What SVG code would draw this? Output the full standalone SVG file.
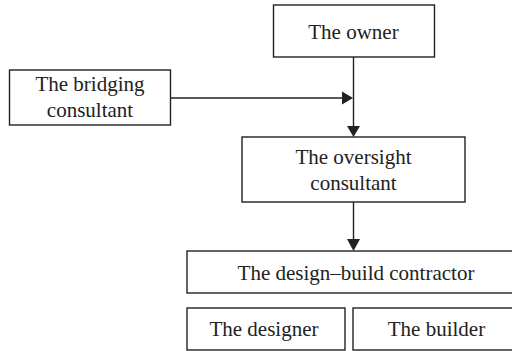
<svg xmlns="http://www.w3.org/2000/svg" width="512" height="351" viewBox="0 0 512 351">
  <style>
    .box { fill: #ffffff; stroke: #222222; stroke-width: 1.4; }
    .label { font-family: "Liberation Serif", "Times New Roman", serif; font-size: 21px; fill: #222222; text-anchor: middle; }
    .link { stroke: #222222; stroke-width: 1.4; fill: none; }
    .head { fill: #222222; }
  </style>
  <rect width="512" height="351" fill="#ffffff"/>

  <g id="connectors">
    <line class="link" x1="353.5" y1="57" x2="353.5" y2="127"/>
    <polygon class="head" points="347,126 360,126 353.5,137"/>
    <line class="link" x1="171" y1="98" x2="343" y2="98"/>
    <polygon class="head" points="342,91.5 342,104.5 353,98"/>
    <line class="link" x1="353.5" y1="202" x2="353.5" y2="240"/>
    <polygon class="head" points="347,239 360,239 353.5,251"/>
  </g>

  <g id="owner">
    <rect class="box" x="273.5" y="5" width="161" height="52"/>
    <text class="label" x="353.5" y="39">The owner</text>
  </g>

  <g id="bridging-consultant">
    <rect class="box" x="9.5" y="70" width="161" height="55"/>
    <text class="label" x="90" y="91">The bridging</text>
    <text class="label" x="90" y="117">consultant</text>
  </g>

  <g id="oversight-consultant">
    <rect class="box" x="242" y="137" width="223" height="65"/>
    <text class="label" x="353.5" y="164">The oversight</text>
    <text class="label" x="353.5" y="190">consultant</text>
  </g>

  <g id="design-build-contractor">
    <rect class="box" x="187" y="251" width="333" height="42"/>
    <text class="label" x="356" y="280">The design–build contractor</text>
  </g>

  <g id="designer">
    <rect class="box" x="187" y="308" width="158" height="42"/>
    <text class="label" x="264" y="336">The designer</text>
  </g>

  <g id="builder">
    <rect class="box" x="353" y="308" width="167" height="42"/>
    <text class="label" x="436.5" y="336">The builder</text>
  </g>
</svg>
